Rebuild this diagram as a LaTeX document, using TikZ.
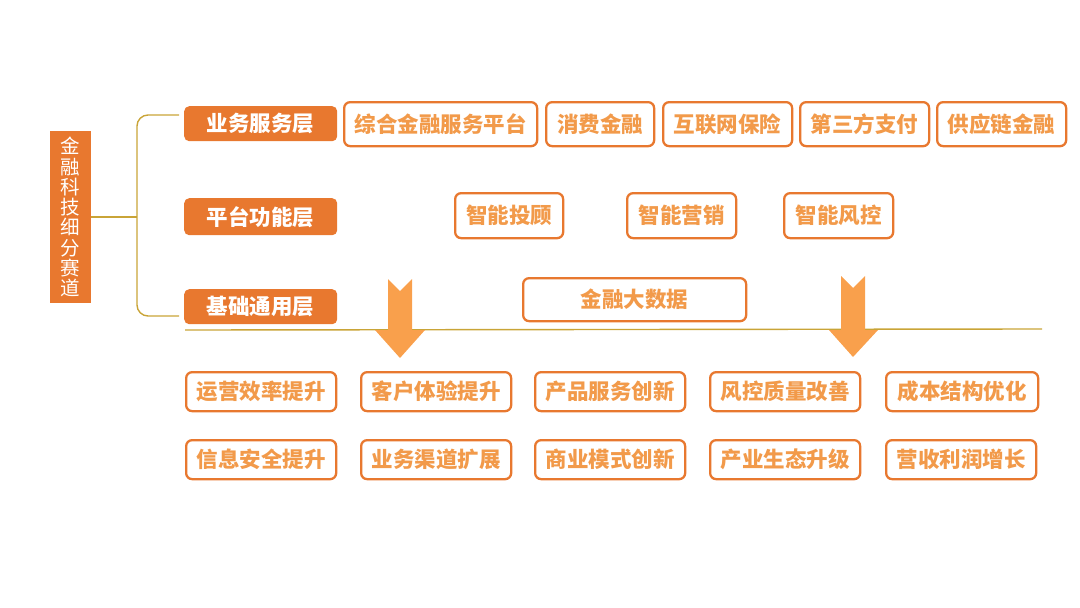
\documentclass[tikz,border=0pt]{standalone}
\usepackage{fontspec}
\setmainfont{Noto Sans CJK SC}
\begin{document}
\begin{tikzpicture}[x=1pt,y=-1pt,
  layer/.style={fill=lorange,rounded corners=5pt,text=white,font=\fontsize{21.5}{22}\selectfont\bfseries,inner sep=0pt,anchor=north west},
  item/.style={draw=lorange,line width=2.3pt,fill=white,rounded corners=6pt,text=torange,font=\fontsize{21.5}{22}\selectfont\bfseries,inner sep=0pt,anchor=north west},
  guide/.style={draw=olive,line width=1.4pt},
  bigarrow/.style={fill=aorange,draw=none}
]
\definecolor{lorange}{HTML}{E8782F}
\definecolor{torange}{HTML}{F29A4A}
\definecolor{aorange}{HTML}{F9A04C}
\definecolor{olive}{HTML}{C9A437}
\useasboundingbox (0,0) rectangle (1080,608);

% left title box
\node[fill=lorange,text=white,anchor=north west,minimum width=41pt,minimum height=172pt,inner sep=0pt,align=center,
  font=\fontsize{19.5}{20.3}\selectfont] (title) at (50,131) {金\\融\\科\\技\\细\\分\\赛\\道};

% layer labels
\node[layer,minimum width=153pt,minimum height=35pt] (L1) at (184,106) {业务服务层};
\node[layer,minimum width=153pt,minimum height=37pt] (L2) at (184,198) {平台功能层};
\node[layer,minimum width=153pt,minimum height=35pt] (L3) at (184,289) {基础通用层};

% bracket
\coordinate (bx) at (137,217);
\coordinate (bt) at (179,115);
\coordinate (bb) at (179,316);
\draw[guide] (title.east |- bx) -- (bx);
\draw[guide,rounded corners=11pt] (bt) -- (137,115) -- (137,316) -- (bb);

% row 1
\node[item,minimum width=193pt,minimum height=44pt] (a1) at (343,101) {综合金融服务平台};
\node[item,minimum width=108pt,minimum height=44pt] (a2) at (545,101) {消费金融};
\node[item,minimum width=129pt,minimum height=44pt] (a3) at (662,101) {互联网保险};
\node[item,minimum width=129pt,minimum height=44pt] (a4) at (799,101) {第三方支付};
\node[item,minimum width=129pt,minimum height=44pt] (a5) at (936,101) {供应链金融};

% row 2
\node[item,minimum width=108pt,minimum height=45pt] (b1) at (454,192) {智能投顾};
\node[item,minimum width=109pt,minimum height=45pt] (b2) at (626,192) {智能营销};
\node[item,minimum width=109pt,minimum height=45pt] (b3) at (783,192) {智能风控};

% big data
\node[item,minimum width=223pt,minimum height=43pt] (c1) at (522,277) {金融大数据};

% horizontal line
\coordinate (hl) at (185,330);
\coordinate (hr) at (1042,329);
\draw[guide] (hl) -- (hr);

% arrows
\fill[bigarrow] (388,279) -- (400,291) -- (412,279) -- (412,330) -- (425,330) -- (400,358) -- (375,330) -- (388,330) -- cycle;
\fill[bigarrow] (841,276) -- (853,288) -- (865,276) -- (865,330) -- (878,330) -- (853,357) -- (829,330) -- (841,330) -- cycle;

% row 3
\node[item,minimum width=150pt,minimum height=39pt] (d1) at (185,371) {运营效率提升};
\node[item,minimum width=150pt,minimum height=39pt] (d2) at (360,371) {客户体验提升};
\node[item,minimum width=150pt,minimum height=39pt] (d3) at (534,371) {产品服务创新};
\node[item,minimum width=150pt,minimum height=39pt] (d4) at (709,371) {风控质量改善};
\node[item,minimum width=152pt,minimum height=39pt] (d5) at (885,371) {成本结构优化};

% row 4
\node[item,minimum width=150pt,minimum height=39pt] (e1) at (185,439) {信息安全提升};
\node[item,minimum width=150pt,minimum height=39pt] (e2) at (360,439) {业务渠道扩展};
\node[item,minimum width=150pt,minimum height=39pt] (e3) at (534,439) {商业模式创新};
\node[item,minimum width=150pt,minimum height=39pt] (e4) at (709,439) {产业生态升级};
\node[item,minimum width=150pt,minimum height=39pt] (e5) at (885,439) {营收利润增长};
\end{tikzpicture}
\end{document}
